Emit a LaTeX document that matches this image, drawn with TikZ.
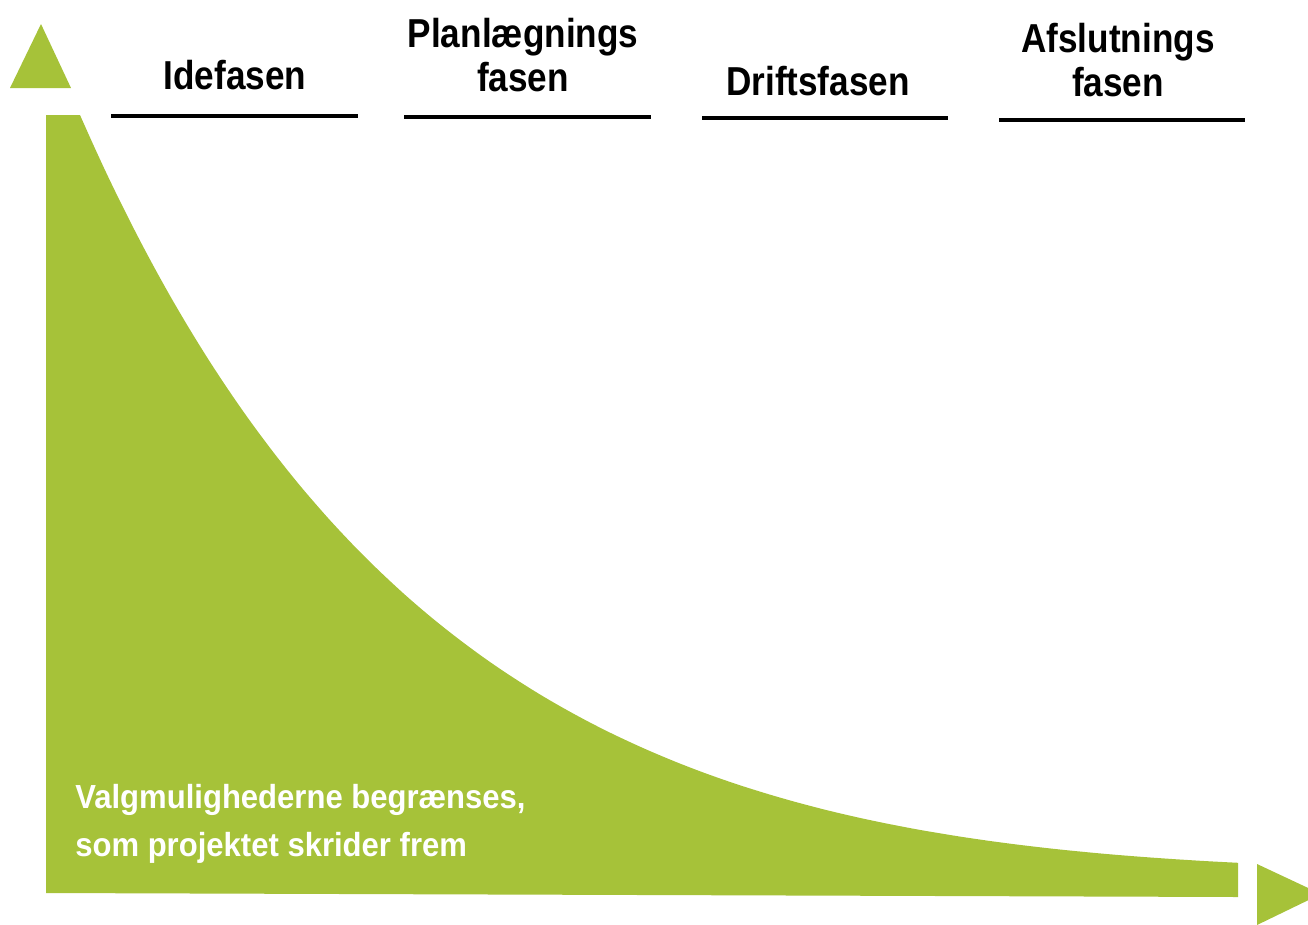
\documentclass[tikz,border=0pt]{standalone}
\usepackage{fontspec}
\setmainfont{Liberation Sans}
\newfontfamily\phasefont[FakeStretch=0.87]{Liberation Sans}
\newfontfamily\notefont[FakeStretch=0.93]{Liberation Sans}
\usetikzlibrary{positioning}
\definecolor{valggreen}{RGB}{166,194,57}

\begin{document}
\begin{tikzpicture}[x=0.02cm, y=-0.02cm,
	phase/.style={font=\phasefont\bfseries\fontsize{23}{25}\selectfont, align=center, anchor=base, inner sep=0pt},
	phaseline/.style={line width=2.3pt, color=black}]
			%%%%% START %%%%%
			
			\useasboundingbox (0, 0) rectangle (1308, 924);
			\clip (0, 0) rectangle (1308, 924);
			
			% axis heads
			\fill[valggreen] (10, 88) -- (71, 88) -- (41, 24) -- cycle;
			\fill[valggreen] (1257, 864) -- (1257, 925) -- (1321, 894) -- cycle;
			
			% choices area (falls off like an exponential)
			\fill[valggreen] (46, 115) -- plot[domain=80:1238, samples=90, smooth] (\x, {872 - 757*exp(-(\x-80)/330)*exp(-((\x-80)/1200)^3)}) -- (1238, 897) -- (46, 893) -- cycle;
			
			% phases
			\draw[phaseline] (111, 116) -- (358, 116);
			\node[phase] (ide) at (235, 89) {Idefasen};
			
			\draw[phaseline] (404, 117) -- (651, 117);
			\node[phase] (plan) at (523, 91) {Planlægnings\\fasen};
			
			\draw[phaseline] (702, 118) -- (948, 118);
			\node[phase] (drift) at (818, 95) {Driftsfasen};
			
			\draw[phaseline] (999, 120) -- (1245, 120);
			\node[phase] (afslut) at (1118, 96) {Afslutnings\\fasen};
			
			\node[font=\notefont\bfseries\fontsize{19}{27}\selectfont, text=white, align=left, anchor=base west, inner sep=0pt] (valg) at (75, 856) {Valgmulighederne begrænses,\\som projektet skrider frem};
			
			%%%%% END %%%%%
\end{tikzpicture}
\end{document}
